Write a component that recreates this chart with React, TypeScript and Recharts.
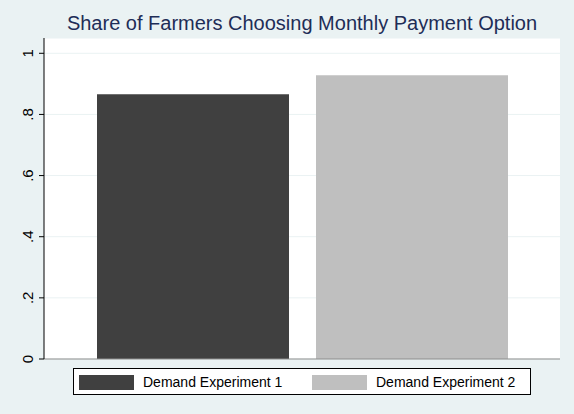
import { Bar, BarChart, CartesianGrid, ReferenceLine, XAxis, YAxis } from "recharts"

const CATEGORIES = ["Monthly payment"]
const SERIES_NAMES = ["Demand Experiment 1", "Demand Experiment 2"]
const EXPERIMENT_1 = [0.866]
const EXPERIMENT_2 = [0.928]
const Y_TICKS = [0, 0.2, 0.4, 0.6, 0.8, 1]

const COLORS = {
    bg: "#eaf2f3",
    grid: "#eaf2f3",
    title: "#1e2d57",
    exp1: "#404040",
    exp2: "#bfbfbf",
}

const FONT = "'Liberation Sans', Arial, sans-serif"

const chartData = CATEGORIES.map((c, i) => ({
    label: c,
    exp1: EXPERIMENT_1[i],
    exp2: EXPERIMENT_2[i],
}))

function fmtTick(v: number) {
    if (v === 0) return "0"
    if (v === 1) return "1"
    return String(v).replace(/^0/, "")
}

function RotatedTick({ y, payload }: any) {
    const x = 33
    return (
        <text
            x={x}
            y={y}
            transform={`rotate(-90, ${x}, ${y})`}
            textAnchor="middle"
            fontSize={15}
            fontFamily={FONT}
            fill="#000"
        >
            {fmtTick(payload.value)}
        </text>
    )
}

export default function App() {
    const swatches = [COLORS.exp1, COLORS.exp2]
    return (
        <div style={{ position: "relative", width: 574, height: 414, background: COLORS.bg, fontFamily: FONT }}>
            <style>{`body{margin:0}`}</style>
            <BarChart
                width={574}
                height={414}
                data={chartData}
                margin={{ top: 38, right: 14, bottom: 55, left: 0 }}
                barGap={27}
                barSize={192}
            >
                <text x={302} y={29.5} textAnchor="middle" fontSize={20} fontFamily={FONT} fill={COLORS.title}>
                    Share of Farmers Choosing Monthly Payment Option
                </text>
                <CartesianGrid vertical={false} stroke={COLORS.grid} fill="#fff" />
                <XAxis dataKey="label" hide />
                <YAxis
                    domain={[0, 1.05]}
                    ticks={Y_TICKS}
                    width={44}
                    tickSize={5}
                    tickLine={{ stroke: "#000" }}
                    axisLine={{ stroke: "#000" }}
                    tick={<RotatedTick />}
                    interval={0}
                />
                <Bar dataKey="exp1" name={SERIES_NAMES[0]} fill={COLORS.exp1} isAnimationActive={false} />
                <Bar dataKey="exp2" name={SERIES_NAMES[1]} fill={COLORS.exp2} isAnimationActive={false} />
                <ReferenceLine y={0} stroke="#8c8c8c" strokeWidth={1} />
            </BarChart>
            <div
                style={{
                    position: "absolute",
                    left: 73,
                    top: 368,
                    width: 456,
                    height: 25,
                    border: "1px solid #000",
                    background: "#fff",
                    boxSizing: "content-box",
                }}
            >
                {SERIES_NAMES.map((name, i) => (
                    <div
                        key={name}
                        style={{
                            position: "absolute",
                            left: 5 + i * 233,
                            top: 5,
                            display: "flex",
                            alignItems: "center",
                            fontSize: 14,
                            color: "#000",
                            whiteSpace: "nowrap",
                        }}
                    >
                        <span style={{ display: "inline-block", width: 55, height: 15, background: swatches[i], marginRight: 9 }} />
                        {name}
                    </div>
                ))}
            </div>
        </div>
    )
}
